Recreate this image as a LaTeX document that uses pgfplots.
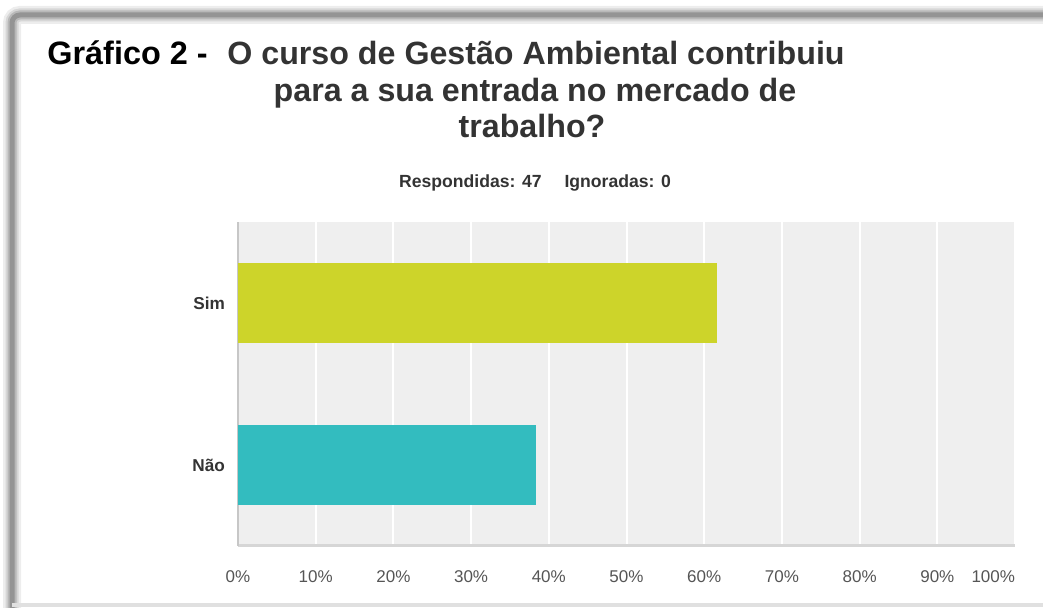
\documentclass[border=0pt]{standalone}
\usepackage{fontspec}
\setmainfont{Liberation Sans}
\usepackage{pgfplots}
\pgfplotsset{compat=1.18}
\definecolor{simbar}{HTML}{CDD42A}
\definecolor{naobar}{HTML}{33BCBF}
\definecolor{plotbg}{HTML}{EFEFEF}
\definecolor{titlegray}{HTML}{333333}
\definecolor{ticktext}{HTML}{555555}
\definecolor{axisgray}{HTML}{D6D6D6}
\begin{document}
\begin{tikzpicture}[x=0.5pt,y=0.5pt]
\useasboundingbox (0,0) rectangle (1043,608);
% shadowed frame
\foreach \w/\c in {18/7,13/16,9/28,5/42}{
  \draw[line width=\w*0.5pt, black!\c, rounded corners=4pt] (12,0) -- (12,593) -- (1043,593);
}
\draw[line width=2pt, black!12] (12,3) -- (1043,3);

% title
\node[anchor=base west, inner sep=0pt, font=\fontsize{16.2}{19}\selectfont\bfseries] at (47,543) {Gráfico 2 -};
\node[anchor=base, inner sep=0pt, font=\fontsize{16.1}{19}\selectfont\bfseries, text=titlegray] at (536,543) {O curso de Gestão Ambiental contribuiu};
\node[anchor=base, inner sep=0pt, font=\fontsize{16.1}{19}\selectfont\bfseries, text=titlegray] at (535,506) {para a sua entrada no mercado de};
\node[anchor=base, inner sep=0pt, font=\fontsize{16.1}{19}\selectfont\bfseries, text=titlegray] at (532,470) {trabalho?};
\node[anchor=base, inner sep=0pt, font=\fontsize{8.8}{10}\selectfont\bfseries, text=titlegray] at (535,420) {Respondidas: 47\hspace{11.5pt}Ignoradas: 0};

\begin{axis}[
  at={(119pt,31pt)}, anchor=south west,
  scale only axis, width=388.5pt, height=162pt,
  xmin=0, xmax=100, ymin=0, ymax=4,
  axis background/.style={fill=plotbg},
  axis x line*=bottom, axis y line*=left,
  x axis line style={-, draw=axisgray, line width=1.5pt},
  y axis line style={-, draw=black!22, line width=1pt},
  xtick={0,10,...,100},
  xticklabels={0\%,10\%,20\%,30\%,40\%,50\%,60\%,70\%,80\%,90\%,\makebox[0pt][r]{100\%}},
  ytick={1,3}, yticklabels={Não,Sim},
  major tick length=0pt,
  xmajorgrids, major grid style={white, line width=1pt},
  xticklabel style={font=\fontsize{8.5}{10}\selectfont, text=ticktext, yshift=-9pt},
  yticklabel style={font=\fontsize{8.6}{10}\selectfont\bfseries, text=titlegray, xshift=-3pt},
]
\addplot[xbar, bar width=0.99, bar shift=0pt, fill=simbar, draw=none] coordinates {(61.70,3)};
\addplot[xbar, bar width=0.99, bar shift=0pt, fill=naobar, draw=none] coordinates {(38.30,1)};
\end{axis}
\end{tikzpicture}
\end{document}
